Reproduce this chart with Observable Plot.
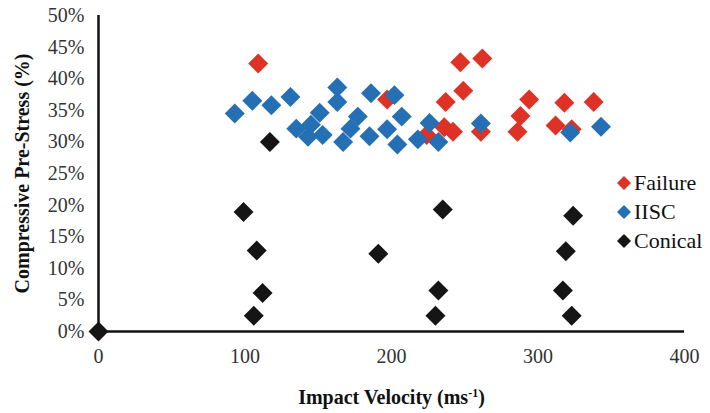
<!DOCTYPE html>
<html><head><meta charset="utf-8">
<script src="https://cdn.jsdelivr.net/npm/d3@7"></script>
<script src="https://cdn.jsdelivr.net/npm/@observablehq/plot@0.6"></script>
<style>
body{margin:0;background:#fff;}
#wrap{position:relative;width:710px;height:413px;font-family:'Liberation Serif';}
#legend{position:absolute;left:617px;top:168px;font-size:22px;color:#111;line-height:29px;font-family:'Liberation Serif';}
#legend div{display:flex;align-items:center;white-space:nowrap;}
#legend svg{margin-right:3px;}
svg text{font-family:'Liberation Serif' !important;}
</style>
</head><body>
<div id="wrap"><div id="chart"></div><div id="legend"></div></div>
<script>
const seriesNames = ["Failure", "IISC", "Conical"];
const seriesColors = ["#de3226", "#2570b5", "#151515"];
const xTicks = [0, 100, 200, 300, 400];
const yTicks = [0, 5, 10, 15, 20, 25, 30, 35, 40, 45, 50];

const failureVelocity = [109, 197, 224, 236, 242, 237, 247, 249, 262, 261, 286, 288, 294, 312, 318, 323, 338];
const failurePrestress = [42.4, 36.7, 31.1, 32.3, 31.6, 36.3, 42.6, 38.1, 43.2, 31.6, 31.6, 34.1, 36.7, 32.6, 36.2, 32.0, 36.3];

const iiscVelocity = [93, 105, 118, 131, 135, 145, 143, 151, 153, 163, 163, 167, 172, 177, 185, 186, 197, 202, 207, 204, 218, 226, 232, 261, 322, 343];
const iiscPrestress = [34.5, 36.5, 35.8, 37.1, 32.1, 32.7, 30.8, 34.6, 31.1, 38.6, 36.3, 30.0, 32.1, 34.0, 30.9, 37.7, 32.0, 37.4, 34.0, 29.6, 30.4, 33.0, 30.0, 32.9, 31.5, 32.4];

const conicalVelocity = [0, 99, 108, 112, 106, 117, 191, 235, 232, 230, 324, 319, 317, 323];
const conicalPrestress = [0, 18.9, 12.8, 6.1, 2.5, 30.0, 12.3, 19.3, 6.5, 2.5, 18.3, 12.7, 6.5, 2.5];

const rows = [];
[[failureVelocity, failurePrestress], [iiscVelocity, iiscPrestress], [conicalVelocity, conicalPrestress]]
  .forEach(([vs, ps], i) => vs.forEach((v, j) => rows.push({series: seriesNames[i], v, p: ps[j]})));

const chart = Plot.plot({
  width: 710, height: 413,
  marginLeft: 98, marginRight: 26, marginTop: 15, marginBottom: 82,
  style: {fontFamily: "Liberation Serif", fontSize: "20px", color: "#333", background: "white", overflow: "visible"},
  x: {domain: [0, 400]},
  y: {domain: [0, 50]},
  color: {domain: seriesNames, range: seriesColors},
  marks: [
    Plot.axisX({ticks: xTicks, tickSize: 0, tickPadding: 17, label: "Impact Velocity (ms-1)", labelAnchor: "center", labelOffset: 72, labelArrow: "none"}),
    Plot.axisY({ticks: yTicks, tickSize: 0, tickPadding: 14, tickFormat: d => d + "%", label: "Compressive Pre-Stress (%)", labelAnchor: "center", labelOffset: 84, labelArrow: "none"}),
    Plot.ruleX([0], {y1: 0, y2: 50, stroke: "#111", strokeWidth: 2.5}),
    Plot.ruleY([0], {x1: 0, x2: 400, stroke: "#111", strokeWidth: 2.5}),
    Plot.dot(rows, {x: "v", y: "p", fill: "series", symbol: "diamond2", r: 9, stroke: "none"})
  ]
});
document.getElementById("chart").appendChild(chart);

d3.select(chart).selectAll("text").attr("font-family", "Liberation Serif");
d3.select(chart).selectAll('g[aria-label="x-axis label"] text, g[aria-label="y-axis label"] text')
  .attr("font-weight", "bold").attr("fill", "#111");
d3.select(chart).selectAll('g[aria-label="x-axis label"] text').each(function() {
  const t = d3.select(this);
  t.text("");
  t.append("tspan").text("Impact Velocity (ms");
  t.append("tspan").attr("baseline-shift", "super").attr("font-size", "12px").text("-1");
  t.append("tspan").text(")");
});

const legend = d3.select("#legend");
seriesNames.forEach((name, i) => {
  const row = legend.append("div");
  const s = row.append("svg").attr("width", 14).attr("height", 14);
  s.append("polygon").attr("points", "7,0 14,7 7,14 0,7").attr("fill", seriesColors[i]);
  row.append("span").text(name);
});
</script>
</body></html>
